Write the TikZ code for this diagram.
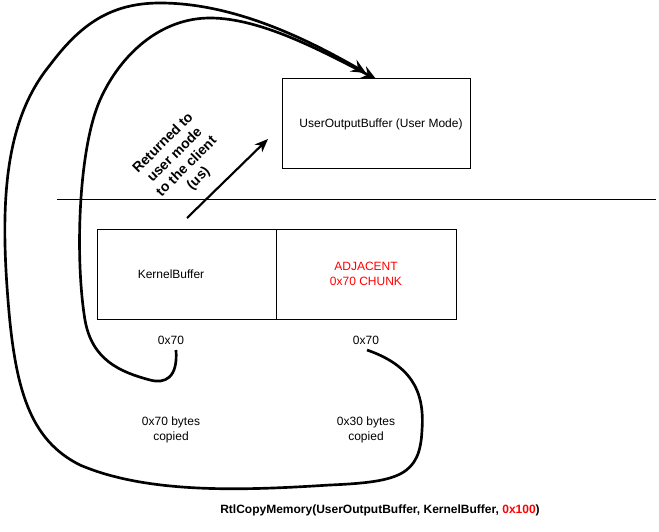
\documentclass[tikz,border=0pt]{standalone}
\usepackage{fontspec}
\setmainfont{Liberation Sans}
\usetikzlibrary{arrows.meta}

\tikzset{
  buf/.style={draw, line width=0.75pt, inner sep=0pt},
  lbl/.style={font=\fontsize{9}{11}\selectfont, align=center},
  flow/.style={line width=2pt, -{Stealth[length=11pt, width=10pt, inset=4pt]}},
}

\begin{document}
\begin{tikzpicture}[x=0.75pt, y=-0.75pt]
  \useasboundingbox (0,0) rectangle (659,531);
  % user side
  \node[buf, minimum width=141pt, minimum height=66.75pt] (UOB) at (376,123.5) {};
  \node[lbl] (UOBtxt) at (381,124) {UserOutputBuffer (User Mode)};
  \coordinate (L) at (57,199);
  \coordinate (R) at (656,199);
  \draw[line width=0.75pt] (L) -- (R);
  % kernel side
  \node[buf, minimum width=134.25pt, minimum height=67.5pt] (KB) at (186.5,274) {};
  \node[buf, minimum width=135pt, minimum height=67.5pt] (ADJ) at (366,274) {};
  \node[lbl] (KBtxt) at (171,274) {KernelBuffer};
  \node[lbl, text=red] (ADJtxt) at (366,274) {ADJACENT\\0x70 CHUNK};
  \node[lbl] (KBsz) at (171,340) {0x70};
  \node[lbl] (ADJsz) at (366,340) {0x70};
  \node[lbl] (KBcp) at (171,430) {0x70 bytes\\copied};
  \node[lbl] (ADJcp) at (366,430) {0x30 bytes\\copied};
  % returned to user
  \coordinate (RetA) at (187,218);
  \coordinate (RetB) at (268,139);
  \draw[line width=1.6pt, -{Stealth[length=10pt, width=8pt, inset=3pt]}] (RetA) -- (RetB);
  \node[lbl, font=\fontsize{10.5}{12.5}\selectfont\bfseries, rotate=45] (Ret) at (181,161) {Returned to\\user mode\\to the client\\(us)};
  % copies
  \coordinate (InA) at (176,350);
  \coordinate (InB) at (376,79);
  \coordinate (OutA) at (367,350);
  \coordinate (OutB) at (366,73);
  \draw[flow] (InA) .. controls (178,378) and (165,384) .. (150,380)
    .. controls (120,372) and (92,360) .. (85,320)
    .. controls (75,260) and (78,150) .. (100,100)
    .. controls (120,55) and (160,18) .. (210,18)
    .. controls (260,18) and (320,50) .. (InB);
  \draw[flow] (OutA) .. controls (410,365) and (425,390) .. (422,430)
    .. controls (420,475) and (400,482) .. (330,485)
    .. controls (250,490) and (150,495) .. (80,465)
    .. controls (30,440) and (15,390) .. (8,300)
    .. controls (0,200) and (5,120) .. (50,65)
    .. controls (80,25) and (110,3) .. (160,3)
    .. controls (230,3) and (300,35) .. (OutB);
  \node[lbl, font=\fontsize{9}{11}\selectfont\bfseries] (Call) at (380,510) {RtlCopyMemory(UserOutputBuffer, KernelBuffer, \textcolor{red}{0x100})};
\end{tikzpicture}
\end{document}
